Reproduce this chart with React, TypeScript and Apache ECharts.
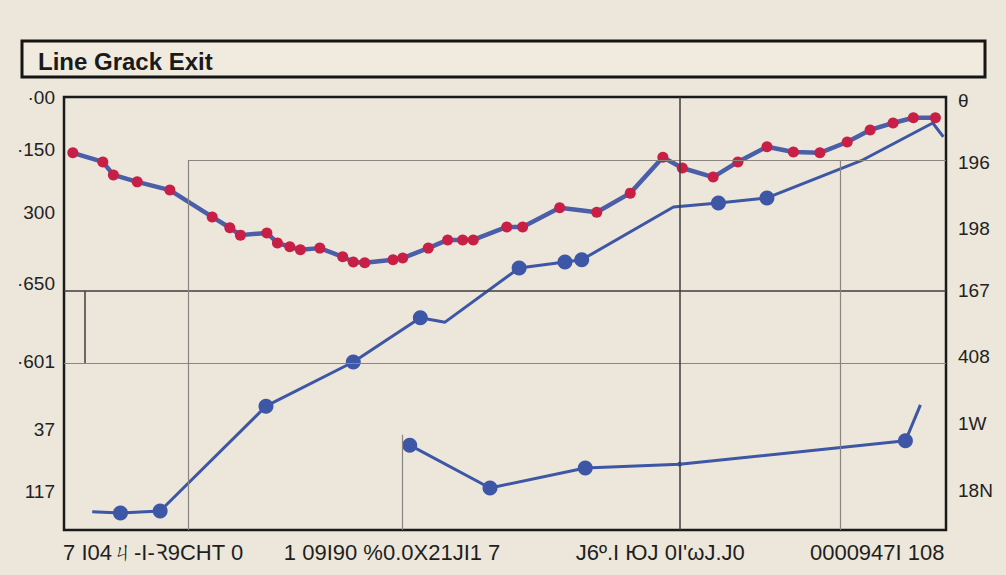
import React, { useEffect, useRef } from "react";
import * as echarts from "echarts";

// Visible tick labels and where they sit on the (hidden) 0..100 scales
const TITLE = "Line Grack Exit";
const LEFT_LABELS = ["·00", "·150", "300", "·650", "·601", "37", "117"];
const LEFT_TICKS = [100, 87.8, 73.4, 57.0, 38.8, 23.1, 9.0];
const RIGHT_LABELS = ["θ", "196", "198", "167", "408", "1W", "18N"];
const RIGHT_TICKS = [99.3, 84.8, 69.7, 55.2, 40.0, 24.7, 9.2];
const BOTTOM_LABELS = ["7 I04ㄐ-I-Ꝛ9CHT 0", "1 09I90 %0.0X21JI1 7", "J6º.I ЮJ 0I'ωJ.J0", "0000947I 108"];
const BOTTOM_TICKS = [10.1, 37.2, 67.6, 92.2];

// Red-marked series (upper)
const RED_X = [1.0, 4.4, 5.6, 8.3, 12.0, 16.8, 18.8, 20.0, 23.0, 24.2, 25.6, 26.8, 29.0, 31.6, 32.8, 34.1, 37.3, 38.4, 41.3, 43.5, 45.2, 46.4, 50.2, 52.0, 56.2, 60.4, 64.2, 67.9, 70.1, 73.6, 76.4, 79.7, 82.7, 85.7, 88.8, 91.4, 94.0, 96.3, 98.8];
const RED_Y = [87.1, 85.0, 82.0, 80.4, 78.5, 72.3, 69.8, 68.1, 68.6, 66.3, 65.4, 64.7, 65.1, 63.1, 61.9, 61.7, 62.4, 62.8, 65.1, 67.0, 67.0, 67.0, 70.0, 70.0, 74.4, 73.4, 77.8, 86.1, 83.6, 81.5, 85.0, 88.5, 87.3, 87.1, 89.6, 92.4, 94.0, 95.2, 95.2];

// Rising blue series
const BLUE_X = [3.2, 6.4, 10.9, 22.9, 32.8, 40.4, 43.2, 51.6, 56.8, 58.7, 69.1, 74.2, 79.7, 90.6, 98.5, 99.7];
const BLUE_Y = [4.2, 3.9, 4.4, 28.6, 38.8, 49.0, 48.0, 60.5, 61.9, 62.4, 74.6, 75.5, 76.7, 85.5, 94.0, 90.8];

// Lower blue series
const LOW_X = [39.2, 48.3, 59.1, 69.8, 95.4, 97.1];
const LOW_Y = [19.6, 9.7, 14.3, 15.2, 20.6, 28.9];

// Reference lines (value scale)
const H_LINES = [
  { y: 85.45, x0: 14.06, x1: 100, dark: false },
  { y: 55.2, x0: 0, x1: 100, dark: true },
  { y: 38.57, x0: 0, x1: 100, dark: false },
];
const V_LINES = [
  { x: 14.06, y0: 0, y1: 85.45, dark: false },
  { x: 38.4, y0: 0, y1: 22, dark: false },
  { x: 69.84, y0: 0, y1: 100, dark: true },
  { x: 87.98, y0: 0, y1: 85.45, dark: false },
  { x: 2.38, y0: 38.57, y1: 55.2, dark: true },
];

const zip = (xs: number[], ys: number[]) => xs.map((x, i) => [x, ys[i]]);
const pick = (ticks: number[], labels: string[], v: number) => {
  let best = 0;
  ticks.forEach((t, i) => {
    if (Math.abs(t - v) < Math.abs(ticks[best] - v)) best = i;
  });
  return labels[best];
};

export default function App() {
  const ref = useRef<HTMLDivElement>(null);
  useEffect(() => {
    if (!ref.current) return;
    const chart = echarts.init(ref.current, null, { renderer: "svg" });
    const blueC = "#3d56a6";
    const redC = "#c81f46";
    const mlData: any[] = [];
    const ls = (dark: boolean) => ({
      color: dark ? "#3e3e3e" : "#8a8580",
      width: dark ? 1.5 : 1.2,
      type: "solid",
    });
    H_LINES.forEach((l) =>
      mlData.push([{ coord: [l.x0, l.y], lineStyle: ls(l.dark) }, { coord: [l.x1, l.y] }])
    );
    V_LINES.forEach((l) =>
      mlData.push([{ coord: [l.x, l.y0], lineStyle: ls(l.dark) }, { coord: [l.x, l.y1] }])
    );
    chart.setOption({
      animation: false,
      backgroundColor: "#ede6da",
      title: {
        text: TITLE,
        left: 33,
        top: 44,
        textStyle: { fontFamily: "Liberation Sans", fontWeight: "bold", fontSize: 24, color: "#1a1a1a" },
      },
      graphic: [
        {
          type: "rect",
          shape: { x: 22, y: 41, width: 963, height: 36 },
          style: { fill: "#f0eadf", stroke: "#151515", lineWidth: 3 },
          z: -1,
        },
      ],
      grid: {
        left: 64,
        right: 60,
        top: 97,
        bottom: 45,
        show: true,
        borderColor: "#1a1a1a",
        borderWidth: 2.5,
        backgroundColor: "transparent",
      },
      xAxis: {
        type: "value",
        min: 0,
        max: 100,
        axisLine: { show: false },
        axisTick: { show: false },
        splitLine: { show: false },
        axisLabel: {
          customValues: BOTTOM_TICKS,
          formatter: (v: number) => pick(BOTTOM_TICKS, BOTTOM_LABELS, v),
          fontFamily: "Liberation Sans",
          fontSize: 22,
          color: "#1e1e1e",
          margin: 11,
        },
      },
      yAxis: [
        {
          type: "value",
          min: 0,
          max: 100,
          axisLine: { show: false },
          axisTick: { show: false },
          splitLine: { show: false },
          axisLabel: {
            customValues: LEFT_TICKS,
            formatter: (v: number) => pick(LEFT_TICKS, LEFT_LABELS, v),
            fontFamily: "Liberation Sans",
            fontSize: 19,
            color: "#222",
            margin: 9,
          },
        },
        {
          type: "value",
          position: "right",
          min: 0,
          max: 100,
          axisLine: { show: false },
          axisTick: { show: false },
          splitLine: { show: false },
          axisLabel: {
            customValues: RIGHT_TICKS,
            formatter: (v: number) => pick(RIGHT_TICKS, RIGHT_LABELS, v),
            fontFamily: "Liberation Sans",
            fontSize: 19,
            color: "#222",
            margin: 12,
          },
        },
      ],
      series: [
        {
          type: "line",
          data: [],
          silent: true,
          markLine: { symbol: "none", silent: true, label: { show: false }, data: mlData },
        },
        {
          name: "red",
          type: "line",
          data: zip(RED_X, RED_Y),
          symbol: "circle",
          symbolSize: 11,
          lineStyle: { color: "#4b5fa9", width: 4.5 },
          itemStyle: { color: redC },
          z: 4,
        },
        {
          name: "blue",
          type: "line",
          data: zip(BLUE_X, BLUE_Y),
          symbol: "circle",
          symbolSize: (_v: any, p: any) =>
            p.dataIndex === 0 || p.dataIndex === 6 || p.dataIndex === 10 || p.dataIndex >= 13 ? 0 : 15,
          lineStyle: { color: blueC, width: 3 },
          itemStyle: { color: blueC },
          z: 3,
        },
        {
          name: "low",
          type: "line",
          data: zip(LOW_X, LOW_Y),
          symbol: "circle",
          symbolSize: (_v: any, p: any) => (p.dataIndex === 5 ? 0 : p.dataIndex === 3 ? 5 : 15),
          lineStyle: { color: blueC, width: 3 },
          itemStyle: { color: blueC },
          z: 3,
        },
      ],
    });
    return () => chart.dispose();
  }, []);
  return (
    <div
      ref={ref}
      style={{ position: "fixed", left: 0, top: 0, width: 1006, height: 575 }}
    />
  );
}
